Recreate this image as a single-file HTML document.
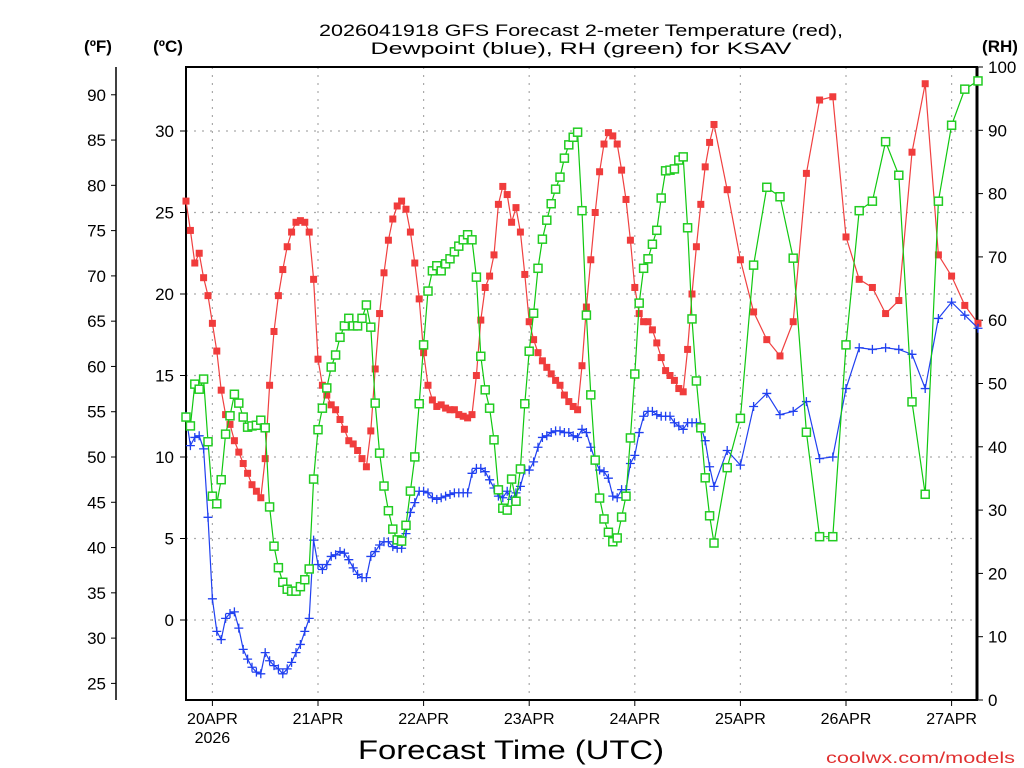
<!DOCTYPE html>
<html><head><meta charset="utf-8"><style>
html,body{margin:0;padding:0;background:#fff;width:1024px;height:768px;overflow:hidden}
svg{display:block;font-family:"Liberation Sans",sans-serif}
</style></head><body>
<svg id="chart" width="1024" height="768" viewBox="0 0 1024 768">
<text x="581" y="36" font-size="17" text-anchor="middle" textLength="524" lengthAdjust="spacingAndGlyphs">2026041918 GFS Forecast 2-meter Temperature (red),</text>
<text x="581" y="54" font-size="17" text-anchor="middle" textLength="421" lengthAdjust="spacingAndGlyphs">Dewpoint (blue), RH (green) for KSAV</text>
<text x="98" y="52" font-size="17" font-weight="bold" text-anchor="middle">(ºF)</text>
<text x="168" y="52" font-size="17" font-weight="bold" text-anchor="middle">(ºC)</text>
<text x="1000" y="52" font-size="17" font-weight="bold" text-anchor="middle">(RH)</text>
<text x="511" y="759" font-size="27" text-anchor="middle" textLength="306" lengthAdjust="spacingAndGlyphs">Forecast Time (UTC)</text>
<text x="1015" y="763" font-size="16" fill="#e03030" text-anchor="end" textLength="189" lengthAdjust="spacingAndGlyphs">coolwx.com/models</text>
<g id="grid"></g><g id="axes"></g><g id="series"></g>
</svg>
<script>
// hours since 19APR 18Z
const hours = [0,1,2,3,4,5,6,7,8,9,10,11,12,13,14,15,16,17,18,19,20,21,22,23,24,25,26,27,28,29,30,31,32,33,34,35,36,37,38,39,40,41,42,43,44,45,46,47,48,49,50,51,52,53,54,55,56,57,58,59,60,61,62,63,64,65,66,67,68,69,70,71,72,73,74,75,76,77,78,79,80,81,82,83,84,85,86,87,88,89,90,91,92,93,94,95,96,97,98,99,100,101,102,103,104,105,106,107,108,109,110,111,112,113,114,115,116,117,118,119,120,123,126,129,132,135,138,141,144,147,150,153,156,159,162,165,168,171,174,177,180];
const tempC = [25.7,23.9,21.9,22.5,21.0,19.9,18.2,16.5,14.1,12.6,
12.0,11.0,10.3,9.6,9.0,8.3,7.9,7.5,9.9,14.4,
17.7,19.9,21.5,22.9,23.8,24.4,24.5,24.4,23.8,20.9,
16.0,14.4,13.8,13.2,12.9,12.3,11.7,11.0,10.8,10.4,
9.9,9.4,11.6,15.4,18.8,21.3,23.3,24.6,25.4,25.7,
25.2,23.8,21.9,19.7,16.4,14.4,13.5,13.1,13.2,13.0,
12.9,12.9,12.6,12.5,12.4,12.6,15.0,18.4,20.4,21.1,
22.4,25.5,26.6,26.1,24.4,25.3,23.8,21.2,18.3,17.2,
16.4,15.9,15.5,15.1,14.7,14.4,13.8,13.4,13.1,12.9,
15.6,19.2,22.1,25.0,27.5,29.2,29.9,29.7,29.2,27.6,
25.8,23.3,20.4,18.8,18.3,18.3,17.8,17.0,16.1,15.3,
15.0,14.7,14.2,14.0,16.6,20.0,22.9,25.5,27.8,29.3,30.4,
26.4,22.1,18.9,17.2,16.2,18.3,27.4,31.9,32.1,23.5,20.9,20.4,18.8,19.6,28.7,32.9,22.4,21.1,19.3,18.2];
const dewC = [12.5,10.7,11.2,11.3,10.5,6.3,1.3,-0.7,-1.2,0.1,
0.4,0.5,-0.5,-1.8,-2.4,-2.9,-3.2,-3.3,-2.0,-2.5,
-2.8,-3.0,-3.3,-3.0,-2.6,-2.0,-1.5,-0.7,0.1,4.9,
3.4,3.1,3.4,3.9,4.0,4.2,4.1,3.7,3.2,2.8,
2.6,2.6,3.9,4.2,4.6,4.8,4.8,4.5,4.4,4.4,
5.3,6.6,7.2,7.9,7.9,7.8,7.5,7.4,7.5,7.6,
7.7,7.8,7.8,7.8,7.8,9.0,9.3,9.3,9.1,8.6,
8.1,7.6,7.5,7.9,7.4,7.8,8.2,9.2,9.2,9.7,
10.6,11.2,11.3,11.5,11.6,11.6,11.5,11.5,11.3,11.2,
11.7,11.5,10.6,9.8,9.2,9.1,8.7,7.6,7.5,8.0,
8.0,9.6,10.1,11.5,12.5,12.8,12.8,12.6,12.5,12.5,
12.5,12.1,11.9,11.7,12.1,12.1,12.1,11.9,11.0,9.4,8.2,
10.4,9.5,13.1,13.9,12.6,12.8,13.4,9.9,10.0,14.2,16.7,16.6,16.7,16.6,16.3,14.2,18.5,19.5,18.7,17.9];
const rh = [44.7,43.3,49.9,49.1,50.7,40.8,32.2,31.0,34.8,42.0,
44.9,48.3,46.9,44.7,43.1,43.3,43.4,44.2,43.0,30.5,
24.3,20.9,18.6,17.5,17.2,17.2,17.9,19.0,20.7,34.9,
42.7,46.1,49.3,52.6,54.5,57.3,59.1,60.3,59.1,59.1,
60.3,62.4,58.9,46.9,39.0,33.8,29.9,27.0,25.3,25.1,
27.6,33.0,38.4,46.8,56.1,64.6,67.8,68.6,67.8,68.9,
69.7,70.8,71.7,72.7,73.5,72.7,66.8,54.3,49.0,46.1,
41.1,33.2,30.3,30.0,34.9,31.4,36.5,46.8,55.1,61.1,
68.2,72.8,75.8,78.4,80.7,82.6,85.6,87.7,88.9,89.7,
77.3,60.8,48.2,37.9,31.9,28.6,26.5,25.0,25.6,28.9,
32.2,41.4,51.5,62.7,68.2,69.7,72.0,74.2,79.3,83.6,
83.7,83.9,85.3,85.8,74.6,60.2,50.4,43.0,35.1,29.1,24.8,
36.7,44.5,68.7,81.0,79.5,69.8,42.3,25.8,25.8,56.1,77.3,78.8,88.2,82.9,47.1,32.5,78.8,90.8,96.5,97.8];
const dayLabels = ["20APR","21APR","22APR","23APR","24APR","25APR","26APR","27APR"];
const dayHours = [6,30,54,78,102,126,150,174];
const cTicks = [0,5,10,15,20,25,30];
const fTicks = [25,30,35,40,45,50,55,60,65,70,75,80,85,90];
const rhTicks = [0,10,20,30,40,50,60,70,80,90,100];

const NS="http://www.w3.org/2000/svg";
const L=186,R=977,T=67,B=700;
const xS=h=>186+h*4.4;
const yC=c=>620-c*16.3;
const yF=f=>yC((f-32)*5/9);
const yRH=v=>700-v*6.33;
function mk(tag,attrs,parent){const e=document.createElementNS(NS,tag);for(const k in attrs)e.setAttribute(k,attrs[k]);parent.appendChild(e);return e;}
const grid=document.getElementById('grid'),axes=document.getElementById('axes'),ser=document.getElementById('series');

cTicks.forEach(c=>{
  const g=mk('line',{x1:L,x2:R,y1:yC(c),y2:yC(c),stroke:'#aaa','stroke-width':1.2,'stroke-dasharray':'2 6'},grid);
  
  
  const t=mk('line',{x1:L-6,x2:L,y1:yC(c),y2:yC(c),stroke:'#000','stroke-width':1},axes);
  
  
  const l=mk('text',{x:L-12,y:yC(c)+6,'font-size':17,'text-anchor':'end'},axes);
  l.textContent=c;
  
  
});
dayHours.forEach((h,i)=>{
  const g=mk('line',{x1:xS(h),x2:xS(h),y1:T,y2:B,stroke:'#aaa','stroke-width':1.2,'stroke-dasharray':'2 6'},grid);
  
  
  const t=mk('line',{x1:xS(h),x2:xS(h),y1:B,y2:B+6,stroke:'#000','stroke-width':1},axes);
  
  
  const l=mk('text',{x:xS(h),y:724,'font-size':16,'text-anchor':'middle'},axes);
  l.textContent=dayLabels[i];
  
  
});
const yr=mk('text',{x:xS(dayHours[0]),y:743,'font-size':16,'text-anchor':'middle'},axes);
yr.textContent='2026';


fTicks.forEach(f=>{
  const t=mk('line',{x1:111,x2:116,y1:yF(f),y2:yF(f),stroke:'#000','stroke-width':1},axes);
  
  
  const l=mk('text',{x:106,y:yF(f)+6,'font-size':17,'text-anchor':'end'},axes);
  l.textContent=f;
  
  
});
rhTicks.forEach(v=>{
  const t=mk('line',{x1:R,x2:R+6,y1:yRH(v),y2:yRH(v),stroke:'#000','stroke-width':1},axes);
  
  
  const l=mk('text',{x:988,y:yRH(v)+6,'font-size':17,'text-anchor':'start'},axes);
  l.textContent=v;
  
  
});
const fax=mk('line',{x1:116,x2:116,y1:T,y2:B,stroke:'#000','stroke-width':1.5},axes);


const frame=mk('rect',{x:L,y:T,width:R-L,height:B-T,fill:'none',stroke:'#000','stroke-width':2},axes);


const rax=mk('line',{x1:R,x2:R,y1:T,y2:B,stroke:'#000','stroke-width':3},axes);



function linePts(vals,yf){return hours.map((h,i)=>xS(h).toFixed(1)+','+yf(vals[i]).toFixed(1)).join(' ');}
const tl=mk('polyline',{points:linePts(tempC,yC),fill:'none',stroke:'#f04040','stroke-width':1.2},ser);


hours.forEach((h,i)=>{
  const m=mk('rect',{x:xS(h)-3.5,y:yC(tempC[i])-3.5,width:7,height:7,fill:'#f03c3c'},ser);
  
  
});
const dl=mk('polyline',{points:linePts(dewC,yC),fill:'none',stroke:'#2040f0','stroke-width':1.2},ser);


hours.forEach((h,i)=>{
  const x=xS(h),y=yC(dewC[i]);
  const m=mk('path',{d:`M${x-4.5},${y}H${x+4.5}M${x},${y-4.5}V${y+4.5}`,stroke:'#2040f0','stroke-width':1.3},ser);
  
  
});
const rl=mk('polyline',{points:linePts(rh,yRH),fill:'none',stroke:'#10c810','stroke-width':1.2},ser);


hours.forEach((h,i)=>{
  const m=mk('rect',{x:xS(h)-4,y:yRH(rh[i])-4,width:8,height:8,fill:'#fff',stroke:'#22cc22','stroke-width':1.5},ser);
  
  
});
</script>
</body></html>
